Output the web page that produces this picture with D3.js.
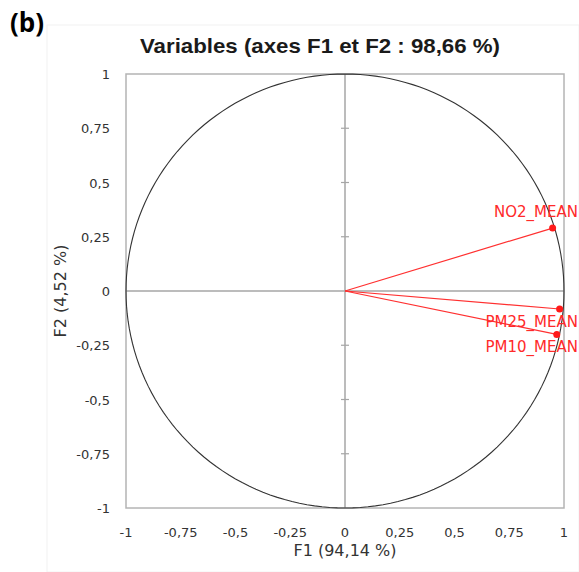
<!DOCTYPE html>
<html>
<head>
<meta charset="utf-8">
<script src="https://cdn.jsdelivr.net/npm/d3@7"></script>
<style>
  body { margin: 0; background: #fff; }
  svg { font-family: "DejaVu Sans", Verdana, sans-serif; }
</style>
</head>
<body>
<div id="chart"></div>
<script>
// variables de l'ACP (coordonnées sur F1 et F2)
const variables = ["NO2_MEAN", "PM25_MEAN", "PM10_MEAN"];
const f1 = [0.948, 0.98, 0.967];
const f2 = [0.29, -0.083, -0.2];
const ticks = [-1, -0.75, -0.5, -0.25, 0, 0.25, 0.5, 0.75, 1];
const tickLabels = ["-1", "-0,75", "-0,5", "-0,25", "0", "0,25", "0,5", "0,75", "1"];

const width = 579;
const height = 572;
const margin = { left: 126, right: 15, top: 74, bottom: 64 };

const svg = d3.select("#chart").append("svg")
  .attr("width", width)
  .attr("height", height);

// cadre léger de la zone graphique
svg.append("rect")
  .attr("x", 47).attr("y", 25)
  .attr("width", width - 47).attr("height", height - 25)
  .attr("fill", "none").attr("stroke", "#f2f2f2");

const x = d3.scaleLinear().domain([-1, 1]).range([margin.left, width - margin.right]);
const y = d3.scaleLinear().domain([-1, 1]).range([height - margin.bottom, margin.top]);

// cadre du graphe
svg.append("rect")
  .attr("x", x(-1)).attr("y", y(1))
  .attr("width", x(1) - x(-1)).attr("height", y(-1) - y(1))
  .attr("fill", "none").attr("stroke", "#b4b4b4").attr("stroke-width", 1.5);

// axes passant par zéro
svg.append("line")
  .attr("x1", x(-1)).attr("x2", x(1)).attr("y1", y(0)).attr("y2", y(0))
  .attr("stroke", "#a6a6a6").attr("stroke-width", 1.5);
svg.append("line")
  .attr("x1", x(0)).attr("x2", x(0)).attr("y1", y(1)).attr("y2", y(-1))
  .attr("stroke", "#a6a6a6").attr("stroke-width", 1.5);

// petites graduations sur l'axe vertical
svg.selectAll(".vtick")
  .data(ticks.filter(d => Math.abs(d) < 1 && d !== 0))
  .join("line")
  .attr("class", "vtick")
  .attr("x1", x(0) - 4).attr("x2", x(0) + 4)
  .attr("y1", d => y(d)).attr("y2", d => y(d))
  .attr("stroke", "#a6a6a6").attr("stroke-width", 1.2);

// cercle des corrélations
const circlePts = d3.range(0, 361, 2).map(a => [Math.cos(a * Math.PI / 180), Math.sin(a * Math.PI / 180)]);
svg.append("path")
  .attr("d", d3.line().x(d => x(d[0])).y(d => y(d[1]))(circlePts))
  .attr("fill", "none").attr("stroke", "#333").attr("stroke-width", 1.1);

// étiquettes des axes
const fmt = d => tickLabels[ticks.indexOf(d)];
svg.selectAll(".xlab")
  .data(ticks)
  .join("text")
  .attr("class", "xlab")
  .attr("x", d => x(d)).attr("y", y(-1) + 29)
  .attr("text-anchor", "middle")
  .attr("font-size", 13).attr("fill", "#333")
  .text(fmt);

svg.selectAll(".ylab")
  .data(ticks)
  .join("text")
  .attr("class", "ylab")
  .attr("x", 110).attr("y", d => y(d) + 5)
  .attr("text-anchor", "end")
  .attr("font-size", 13).attr("fill", "#333")
  .text(fmt);

// titres
svg.append("text")
  .attr("x", 320).attr("y", 53)
  .attr("text-anchor", "middle")
  .attr("font-family", "'Liberation Sans', Arial, sans-serif")
  .attr("font-size", 21).attr("font-weight", "bold").attr("fill", "#1a1a1a")
  .attr("textLength", 360).attr("lengthAdjust", "spacingAndGlyphs")
  .text("Variables (axes F1 et F2 : 98,66 %)");

svg.append("text")
  .attr("x", 10).attr("y", 32)
  .attr("font-family", "'Open Sans', sans-serif")
  .attr("font-size", 26).attr("font-weight", "bold").attr("fill", "#000")
  .text("(b)");

svg.append("text")
  .attr("x", x(0)).attr("y", 556)
  .attr("text-anchor", "middle")
  .attr("font-size", 16).attr("fill", "#333")
  .text("F1 (94,14 %)");

svg.append("text")
  .attr("transform", `translate(66,${y(0)}) rotate(-90)`)
  .attr("text-anchor", "middle")
  .attr("font-size", 16).attr("fill", "#333")
  .text("F2 (4,52 %)");

// vecteurs des variables
const data = variables.map((v, i) => ({ name: v, f1: f1[i], f2: f2[i] }));

svg.selectAll(".vec")
  .data(data)
  .join("line")
  .attr("class", "vec")
  .attr("x1", x(0)).attr("y1", y(0))
  .attr("x2", d => x(d.f1)).attr("y2", d => y(d.f2))
  .attr("stroke", "#ff3030").attr("stroke-width", 1.2);

svg.selectAll(".pt")
  .data(data)
  .join("circle")
  .attr("class", "pt")
  .attr("cx", d => x(d.f1)).attr("cy", d => y(d.f2))
  .attr("r", 3.5)
  .attr("fill", "#ff1a1a");

svg.selectAll(".vlab")
  .data(data)
  .join("text")
  .attr("class", "vlab")
  .attr("x", 578)
  .attr("y", d => y(d.f2))
  .attr("dy", (d, i) => i === 0 ? -11 : 18)
  .attr("text-anchor", "end")
  .attr("font-size", 15).attr("fill", "#ff2a2a")
  .text(d => d.name);
</script>
</body>
</html>
